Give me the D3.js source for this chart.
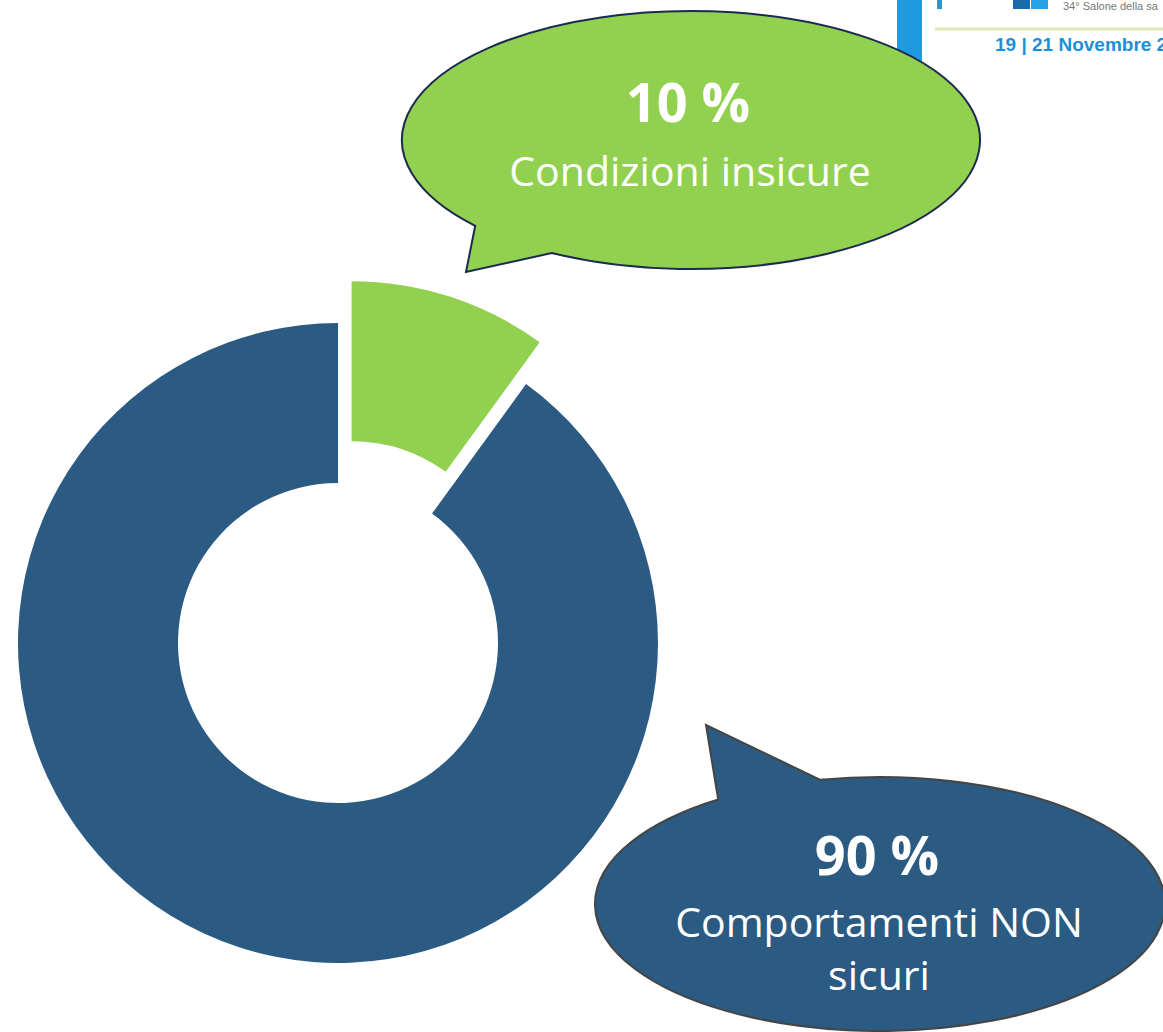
<!DOCTYPE html>
<html>
<head>
<meta charset="utf-8">
<script src="https://cdn.jsdelivr.net/npm/d3@7"></script>
<style>
  html, body { margin: 0; padding: 0; background: #fff; }
  svg { display: block; }
</style>
</head>
<body>
<div id="chart"></div>
<script>
// Data
var categories = ["Condizioni insicure", "Comportamenti NON sicuri"];
var values = [10, 90];
var colours = ["#92D050", "#2B5A82"];
var pctLabels = ["10 %", "90 %"];
var calloutLines = [["Condizioni insicure"], ["Comportamenti NON", "sicuri"]];

var width = 1163, height = 1032;
var cx = 338, cy = 643;
var outerR = 320, innerR = 160;
var explode = 44;
var fontFam = "'Open Sans', sans-serif";

var svg = d3.select("#chart").append("svg")
  .attr("width", width).attr("height", height);

// ── Logo fragment top-right (under the green callout) ──
var logo = svg.append("g");
logo.append("rect").attr("x", 897).attr("y", 0).attr("width", 25).attr("height", 75).attr("fill", "#1E9BE0");
logo.append("rect").attr("x", 937).attr("y", 0).attr("width", 5).attr("height", 9).attr("fill", "#1E9BE0");
logo.append("rect").attr("x", 1013).attr("y", 0).attr("width", 17).attr("height", 9).attr("fill", "#1A6AA8");
logo.append("rect").attr("x", 1031).attr("y", 0).attr("width", 17).attr("height", 9).attr("fill", "#27A2E4");
logo.append("text").attr("x", 1063).attr("y", 10).attr("font-family", "'Liberation Sans', sans-serif")
  .attr("font-size", 11).attr("fill", "#777").text("34° Salone  della sa");
logo.append("line").attr("x1", 935).attr("x2", width).attr("y1", 29).attr("y2", 29)
  .attr("stroke", "#E0E8B4").attr("stroke-width", 3);
logo.append("text").attr("x", 995).attr("y", 51).attr("font-family", "'Liberation Sans', sans-serif")
  .attr("font-size", 19).attr("font-weight", 700).attr("fill", "#1E8FD6").text("19 | 21 Novembre 2");

// ── Donut ──
var pie = d3.pie().sort(null).value(function (d) { return d; });
var arcs = pie(values);
var arc = d3.arc().innerRadius(innerR).outerRadius(outerR);

var g = svg.append("g").attr("transform", "translate(" + cx + "," + cy + ")");
g.selectAll(".slice")
  .data(arcs).join("path")
    .attr("class", "slice")
    .attr("d", arc)
    .attr("fill", function (d, i) { return colours[i]; })
    .attr("transform", function (d, i) {
      if (i !== 0) return null;
      var a = (d.startAngle + d.endAngle) / 2;
      return "translate(" + (Math.sin(a) * explode) + "," + (-Math.cos(a) * explode) + ")";
    });

// ── Callouts (ellipse with tail) ──
function calloutPath(c) {
  var rad = Math.PI / 180;
  var p1 = [c.cx + c.rx * Math.cos(c.t1 * rad), c.cy + c.ry * Math.sin(c.t1 * rad)];
  var p2 = [c.cx + c.rx * Math.cos(c.t2 * rad), c.cy + c.ry * Math.sin(c.t2 * rad)];
  return "M" + p1 + "L" + c.tip + "L" + p2 +
    "A" + c.rx + "," + c.ry + " 0 1," + c.sweep + " " + p1 + "Z";
}

var callouts = [
  { cx: 691, cy: 140, rx: 289, ry: 129, t1: 138.3, t2: 118.8, tip: [466, 272], sweep: 0,
    stroke: "#1B2A50", pctY: 122, lineY: [186] },
  { cx: 880, cy: 904, rx: 285, ry: 127, t1: 235.4, t2: 257.9, tip: [706, 725], sweep: 1,
    stroke: "#454545", pctY: 875, lineY: [937, 990] }
];

var cg = svg.selectAll(".callout")
  .data(callouts).join("g").attr("class", "callout");

cg.append("path")
  .attr("d", calloutPath)
  .attr("fill", function (d, i) { return colours[i]; })
  .attr("stroke", function (d) { return d.stroke; })
  .attr("stroke-width", 2);

cg.append("text")
  .attr("x", function (d) { return d.cx - 3; })
  .attr("y", function (d) { return d.pctY; })
  .attr("text-anchor", "middle").attr("font-family", fontFam)
  .attr("font-size", 54).attr("font-weight", 700).attr("fill", "#fff")
  .text(function (d, i) { return pctLabels[i]; });

cg.each(function (d, i) {
  d3.select(this).selectAll(".cl")
    .data(calloutLines[i]).join("text")
      .attr("class", "cl")
      .attr("x", d.cx - 1)
      .attr("y", function (t, j) { return d.lineY[j]; })
      .attr("text-anchor", "middle").attr("font-family", fontFam)
      .attr("font-size", 41).attr("fill", "#fff")
      .text(function (t) { return t; });
});
</script>
</body>
</html>
